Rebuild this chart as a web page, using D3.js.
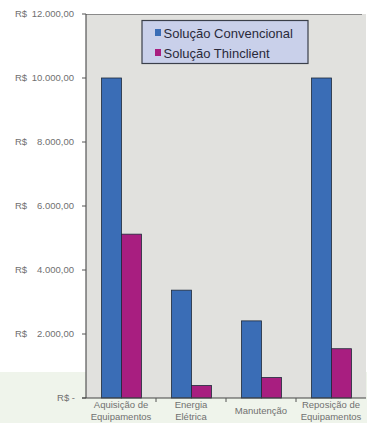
<!DOCTYPE html>
<html><head><meta charset="utf-8">
<script src="https://cdn.jsdelivr.net/npm/d3@7"></script>
<style>body{margin:0;background:#fff;}svg{display:block;}</style>
</head><body>
<script>
const categories = [["Aquisição de","Equipamentos"],["Energia","Elétrica"],["Manutenção"],["Reposição de","Equipamentos"]];
const seriesNames = ["Solução Convencional","Solução Thinclient"];
const convencional = [10000, 3370, 2410, 10000];
const thinclient = [5120, 390, 640, 1540];
const yTicks = [0,2000,4000,6000,8000,10000,12000];
const colors = ["#3a6db6","#a81e80"];

(function(){
const W=367,H=423;
const svg=d3.select("body").append("svg").attr("width",W).attr("height",H);
svg.append("rect").attr("x",0).attr("y",372).attr("width",W).attr("height",H-372).attr("fill","#eff4eb");

const pL=86,pR=366,pT=14,pB=398;
const x=d3.scaleBand().domain(d3.range(categories.length)).range([pL,pR]);
const y=d3.scaleLinear().domain([0,12000]).range([pB,pT]);

svg.append("rect").attr("x",pL).attr("y",pT).attr("width",pR-pL).attr("height",pB-pT).attr("fill","#e1e1de");
svg.append("line").attr("x1",pL).attr("x2",pR-4).attr("y1",pT+0.5).attr("y2",pT+0.5).attr("stroke","#8a8a8a").attr("stroke-width",1);

const barW=20, off=15.5;
const series=[convencional,thinclient];
series.forEach((vals,si)=>{
  svg.append("g").selectAll("rect").data(vals).join("rect")
    .attr("x",(d,i)=>x(i)+off+si*barW)
    .attr("y",d=>y(d))
    .attr("width",barW)
    .attr("height",d=>pB-y(d))
    .attr("fill",colors[si])
    .attr("stroke","#1f2a3a").attr("stroke-width",0.8);
});

const fmt=d3.format(",.2f");
const br=v=>fmt(v).replace(/,/g,"#").replace(".",",").replace(/#/g,".");
const ya=svg.append("g").attr("transform",`translate(${pL},0)`);
ya.append("line").attr("x1",0).attr("x2",0).attr("y1",pT).attr("y2",pB).attr("stroke","#555").attr("stroke-width",1.2);
yTicks.forEach(t=>{
  const yy=y(t);
  ya.append("line").attr("x1",-4).attr("x2",0).attr("y1",yy).attr("y2",yy).attr("stroke","#555");
});
const tl=svg.append("g").attr("font-family","Liberation Sans, Arial, sans-serif").attr("font-size",9.5).attr("fill","#707070");
yTicks.forEach(t=>{
  const yy=y(t)+3;
  if(t===0){
    tl.append("text").attr("x",75).attr("y",yy).attr("text-anchor","end").text("R$ -");
  } else {
    tl.append("text").attr("x",15).attr("y",yy).text("R$");
    tl.append("text").attr("x",74).attr("y",yy).attr("text-anchor","end").text(br(t));
  }
});

svg.append("line").attr("x1",pL-4).attr("x2",pR).attr("y1",pB).attr("y2",pB).attr("stroke","#444").attr("stroke-width",1.2);
d3.range(1,categories.length).forEach(i=>{
  svg.append("line").attr("x1",x(i)).attr("x2",x(i)).attr("y1",pB).attr("y2",pB+4).attr("stroke","#555");
});
categories.forEach((lines,i)=>{
  const cx=x(i)+x.bandwidth()/2;
  const y0 = lines.length===1 ? 414 : 408;
  lines.forEach((l,j)=>{
    tl.append("text").attr("x",cx).attr("y",y0+j*12).attr("text-anchor","middle").text(l);
  });
});

const lg=svg.append("g");
lg.append("rect").attr("x",142).attr("y",20.5).attr("width",166).attr("height",43).attr("fill","#c9d0ea").attr("stroke","#3a3f4a").attr("stroke-width",1.2);
seriesNames.forEach((n,i)=>{
  const yy=29+i*20;
  lg.append("rect").attr("x",155).attr("y",yy).attr("width",6).attr("height",7).attr("fill",colors[i]);
  lg.append("text").attr("x",163.5).attr("y",yy+8.5).attr("font-family","Liberation Sans, Arial, sans-serif").attr("font-size",13).attr("fill","#2a2a3a").text(n);
});
})();
</script>
</body></html>
